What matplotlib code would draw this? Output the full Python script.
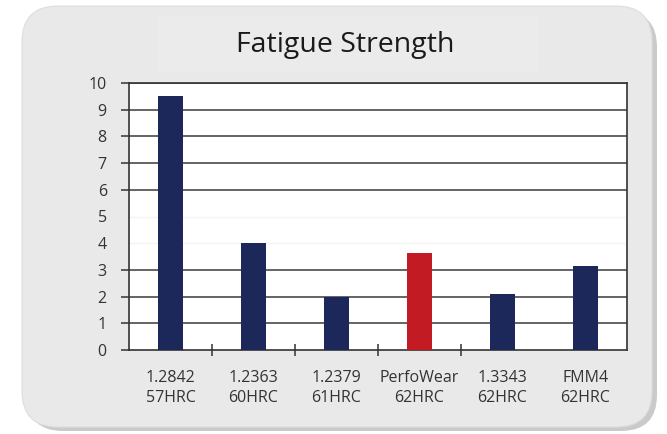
import matplotlib
matplotlib.use("Agg")
import matplotlib.pyplot as plt
from matplotlib.patches import FancyBboxPatch, Rectangle
from matplotlib.transforms import IdentityTransform

# Chart data
materials = ["1.2842", "1.2363", "1.2379", "PerfoWear", "1.3343", "FMM4"]
hardness = ["57HRC", "60HRC", "61HRC", "62HRC", "62HRC", "62HRC"]
fatigue_strength = [9.5, 4.0, 2.0, 3.65, 2.1, 3.15]
bar_colors = ["#1c275a", "#1c275a", "#1c275a", "#c21b24", "#1c275a", "#1c275a"]
y_ticks = list(range(0, 11))
faint_grid = [4, 5]

W, H = 667, 434
fig = plt.figure(figsize=(W / 100, H / 100), dpi=100)
fig.patch.set_facecolor("white")

# Rounded card with soft shadow (pixel coordinates, origin bottom-left)
px = IdentityTransform()
shadow = FancyBboxPatch((27, H - 431), 630, 420,
                        boxstyle="round,pad=0,rounding_size=36",
                        transform=px, facecolor="#a0a0a0",
                        edgecolor="none", alpha=0.55, zorder=-3)
card = FancyBboxPatch((22, H - 427), 630, 421,
                      boxstyle="round,pad=0,rounding_size=36",
                      transform=px, facecolor="#e9e9e9",
                      edgecolor="#dedede", linewidth=0.8, zorder=-2)
title_band = Rectangle((158, H - 73), 380, 58, transform=px,
                       facecolor="#ebebeb", edgecolor="none", zorder=-1)
fig.patches.extend([shadow, card, title_band])

fig.text(345 / W, 1 - 45 / H, "Fatigue Strength", ha="center", va="center",
         fontsize=20.5, family="Open Sans", color="#1a1a1a")

ax = fig.add_axes([129 / W, 1 - 350 / H, 498 / W, 267 / H])
ax.set_zorder(2)
ax.set_facecolor("white")

x = list(range(len(materials)))
ax.bar(x, fatigue_strength, width=0.31, color=bar_colors, zorder=3)

ax.set_xlim(-0.5, len(materials) - 0.5)
ax.set_ylim(0, 10)

# Horizontal gridlines
for v in y_ticks[1:]:
    if v in faint_grid:
        ax.axhline(v, color="#f4f4f4", lw=1.0, zorder=1)
    else:
        ax.axhline(v, color="#4a4a4a", lw=1.2, zorder=1)

ax.set_yticks(y_ticks)
ax.set_yticklabels([str(v) for v in y_ticks], family="Open Sans",
                   fontsize=11.5, color="#333333")
ax.tick_params(axis="y", length=6, width=1.1, color="#333333", pad=10)
for t, v in zip(ax.yaxis.get_major_ticks(), y_ticks):
    if v in faint_grid:
        t.tick1line.set_visible(False)

# Category separators on the x axis
sep = [i + 0.5 for i in range(len(materials) - 2)]
ax.set_xticks(sep)
ax.set_xticklabels([])
ax.tick_params(axis="x", length=9, width=1.1, color="#333333", direction="inout")

for i, (m, h) in enumerate(zip(materials, hardness)):
    ax.text(i, -1.05, m, ha="center", va="center", fontsize=11.5,
            family="Open Sans", color="#333333", clip_on=False)
    ax.text(i, -1.8, h, ha="center", va="center", fontsize=11.5,
            family="Open Sans", color="#333333", clip_on=False)

for side in ["left", "bottom", "right", "top"]:
    ax.spines[side].set_color("#333333")
    ax.spines[side].set_linewidth(1.2)

fig.savefig("out.png", dpi=100, facecolor=fig.get_facecolor())
